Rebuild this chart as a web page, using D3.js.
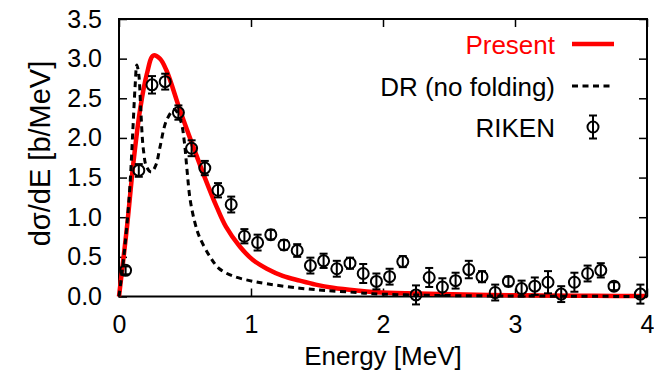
<!DOCTYPE html>
<html>
<head>
<meta charset="utf-8">
<script src="https://cdn.jsdelivr.net/npm/d3@7"></script>
<style>
  body { margin: 0; background: #fff; }
  svg { display: block; }
  text { font-family: "Liberation Sans", Arial, sans-serif; fill: #000; }
</style>
</head>
<body>
<script>
//data
var presentE = [0, 0.06, 0.11, 0.16, 0.21, 0.26, 0.31, 0.36, 0.46, 0.56, 0.65, 0.74, 0.81, 0.915, 1.015, 1.12, 1.24, 1.37, 1.49, 1.62, 1.8, 1.95, 2.17, 2.43, 2.8, 3.2, 3.6, 4.0];
var presentY = [0, 0.87, 1.7, 2.36, 2.8, 3.04, 3.0, 2.85, 2.36, 1.9, 1.5, 1.13, 0.88, 0.63, 0.46, 0.35, 0.26, 0.2, 0.15, 0.11, 0.075, 0.055, 0.04, 0.03, 0.02, 0.012, 0.008, 0.005];

var drE = [0, 0.033, 0.06, 0.083, 0.105, 0.122, 0.135, 0.15, 0.165, 0.185, 0.21, 0.245, 0.28, 0.31, 0.36, 0.42, 0.47, 0.495, 0.515, 0.54, 0.58, 0.61, 0.69, 0.76, 0.86, 0.99, 1.12, 1.37, 1.57, 1.8, 1.92, 2.2, 2.6, 3.2, 4.0];
var drY = [0, 0.45, 0.9, 1.4, 2.1, 2.65, 2.92, 2.8, 2.35, 1.85, 1.63, 1.57, 1.66, 1.88, 2.22, 2.36, 2.2, 1.95, 1.6, 1.21, 0.9, 0.75, 0.5, 0.35, 0.26, 0.2, 0.16, 0.105, 0.076, 0.05, 0.035, 0.02, 0.01, 0.005, 0];

var rikenE = [0.05, 0.15, 0.25, 0.35, 0.45, 0.55, 0.65, 0.75, 0.85, 0.95, 1.05, 1.15, 1.25, 1.35, 1.45, 1.55, 1.65, 1.75, 1.85, 1.95, 2.05, 2.15, 2.25, 2.35, 2.45, 2.55, 2.65, 2.75, 2.85, 2.95, 3.05, 3.15, 3.25, 3.35, 3.45, 3.55, 3.65, 3.75, 3.95];
var rikenY = [0.33, 1.59, 2.67, 2.71, 2.32, 1.87, 1.62, 1.34, 1.16, 0.76, 0.68, 0.78, 0.65, 0.58, 0.39, 0.45, 0.35, 0.42, 0.29, 0.19, 0.25, 0.44, 0.02, 0.24, 0.12, 0.2, 0.34, 0.25, 0.05, 0.19, 0.1, 0.13, 0.18, 0.03, 0.18, 0.29, 0.33, 0.13, 0.03];
var rikenErr = [0.05, 0.08, 0.11, 0.1, 0.09, 0.1, 0.09, 0.09, 0.1, 0.09, 0.1, 0.06, 0.06, 0.08, 0.1, 0.09, 0.1, 0.07, 0.12, 0.1, 0.1, 0.07, 0.12, 0.12, 0.11, 0.1, 0.11, 0.07, 0.1, 0.06, 0.1, 0.11, 0.14, 0.1, 0.12, 0.1, 0.09, 0.05, 0.12];

var xTicks = [0, 1, 2, 3, 4];
var yTicks = [0, 0.5, 1.0, 1.5, 2.0, 2.5, 3.0, 3.5];

var legendNames = ['Present', 'DR (no folding)', 'RIKEN'];

//layout (plot frame edges in px)
var W = 654, H = 371;
var frame = {left: 119, right: 647, top: 19, bottom: 296.5};
var tick = 8;

var x = d3.scaleLinear().domain([0, 4]).range([frame.left, frame.right]);
var y = d3.scaleLinear().domain([0, 3.5]).range([frame.bottom, frame.top]);

var svg = d3.select('body').append('svg')
  .attr('width', W)
  .attr('height', H);

function pairs(xs, ys) {
  var out = [];
  for(var i = 0; i < xs.length; i++) {
    out.push([xs[i], ys[i]]);
  }
  return out;
}

var line = d3.line()
  .x(function(d) { return x(d[0]); })
  .y(function(d) { return y(d[1]); })
  .curve(d3.curveCatmullRom.alpha(0.5));

//axes, ticks pointing in on all four sides
svg.append('g')
  .attr('transform', 'translate(0,' + frame.bottom + ')')
  .call(d3.axisBottom(x).tickValues(xTicks).tickFormat(d3.format('d'))
    .tickSizeInner(-tick).tickSizeOuter(0).tickPadding(19));
svg.append('g')
  .attr('transform', 'translate(' + frame.left + ',0)')
  .call(d3.axisLeft(y).tickValues(yTicks).tickFormat(d3.format('.1f'))
    .tickSizeInner(-tick).tickSizeOuter(0).tickPadding(17));
svg.append('g')
  .attr('transform', 'translate(0,' + frame.top + ')')
  .call(d3.axisTop(x).tickValues(xTicks).tickFormat('')
    .tickSizeInner(-tick).tickSizeOuter(0));
svg.append('g')
  .attr('transform', 'translate(' + frame.right + ',0)')
  .call(d3.axisRight(y).tickValues(yTicks).tickFormat('')
    .tickSizeInner(-tick).tickSizeOuter(0));

svg.selectAll('.domain').remove();
svg.selectAll('.tick line').attr('stroke', '#000').attr('stroke-width', 1.5);
svg.selectAll('.tick text')
  .attr('font-size', null)
  .style('font-size', '25px')
  .style('font-family', '"Liberation Sans", Arial, sans-serif');

svg.append('rect')
  .attr('x', frame.left).attr('y', frame.top)
  .attr('width', frame.right - frame.left).attr('height', frame.bottom - frame.top)
  .attr('fill', 'none')
  .attr('stroke', '#000')
  .attr('stroke-width', 2);

//axis titles
svg.append('text')
  .attr('x', (frame.left + frame.right) / 2)
  .attr('y', 365)
  .attr('text-anchor', 'middle')
  .style('font-size', '26px')
  .text('Energy [MeV]');

svg.append('text')
  .attr('transform', 'translate(50,153.5) rotate(-90)')
  .attr('text-anchor', 'middle')
  .style('font-size', '29px')
  .text('dσ/dE [b/MeV]');

//curves
svg.append('path')
  .datum(pairs(presentE, presentY))
  .attr('d', line)
  .attr('fill', 'none')
  .attr('stroke', '#ff0000')
  .attr('stroke-width', 4.5);

svg.append('path')
  .datum(pairs(drE, drY))
  .attr('d', line)
  .attr('fill', 'none')
  .attr('stroke', '#000')
  .attr('stroke-width', 3)
  .attr('stroke-dasharray', '6,4.5');

//data points with error bars
function drawPoint(g, cx, cy, lo, hi) {
  g.append('line')
    .attr('x1', cx).attr('x2', cx)
    .attr('y1', lo).attr('y2', hi);
  g.append('line')
    .attr('x1', cx - 4).attr('x2', cx + 4)
    .attr('y1', lo).attr('y2', lo);
  g.append('line')
    .attr('x1', cx - 4).attr('x2', cx + 4)
    .attr('y1', hi).attr('y2', hi);
  g.append('circle')
    .attr('cx', cx).attr('cy', cy)
    .attr('r', 5.5)
    .attr('fill', 'none');
}

var pts = svg.append('g')
  .attr('stroke', '#000')
  .attr('stroke-width', 2);
for(var i = 0; i < rikenE.length; i++) {
  drawPoint(pts.append('g'), x(rikenE[i]), y(rikenY[i]),
    y(rikenY[i] - rikenErr[i]), y(rikenY[i] + rikenErr[i]));
}

//legend
var legend = svg.append('g');
var rows = [44, 86, 127];
legend.selectAll('text')
  .data(legendNames)
  .enter()
  .append('text')
  .attr('x', 555)
  .attr('y', function(d, i) { return rows[i] + 9.5; })
  .attr('text-anchor', 'end')
  .style('font-size', '26px')
  .style('fill', function(d, i) { return i === 0 ? '#ff0000' : '#000'; })
  .text(function(d) { return d; });

legend.append('line')
  .attr('x1', 572).attr('x2', 614)
  .attr('y1', rows[0]).attr('y2', rows[0])
  .attr('stroke', '#ff0000')
  .attr('stroke-width', 4.5);
legend.append('line')
  .attr('x1', 572).attr('x2', 614)
  .attr('y1', rows[1]).attr('y2', rows[1])
  .attr('stroke', '#000')
  .attr('stroke-width', 3)
  .attr('stroke-dasharray', '6,4.5');
var key = legend.append('g')
  .attr('stroke', '#000')
  .attr('stroke-width', 2);
drawPoint(key, 593, rows[2], rows[2] + 11.5, rows[2] - 11.5);
</script>
</body>
</html>
